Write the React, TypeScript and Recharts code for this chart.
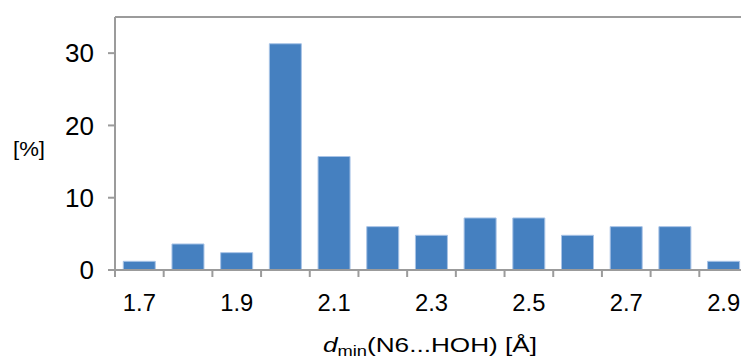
import { BarChart, Bar, XAxis, YAxis, ReferenceLine } from 'recharts';

const categories = ['1.7', '1.8', '1.9', '2.0', '2.1', '2.2', '2.3', '2.4', '2.5', '2.6', '2.7', '2.8', '2.9'];
const percents = [1.2, 3.6, 2.4, 31.3, 15.7, 6.0, 4.8, 7.2, 7.2, 4.8, 6.0, 6.0, 1.2];
const yTicks = [0, 10, 20, 30];

const data = categories.map((c, i) => ({ d: c, pct: percents[i] }));

const FONT = '"Liberation Sans", Arial, sans-serif';
const AXIS = '#9b9b9b';
const W = 763;
const H = 358;
const M = { top: 17, right: 15, bottom: 0, left: 0 };
const Y_W = 115;
const BW = (W - M.left - M.right - Y_W) / categories.length;

// ticks sit on the category borders, labels on every other category
const XTick = (props: any) => {
  const { x, y, payload } = props;
  const i = categories.indexOf(payload.value);
  return (
    <g>
      <line x1={x - BW / 2} x2={x - BW / 2} y1={y - 7} y2={y} stroke={AXIS} strokeWidth={2} />
      {i % 2 === 0 && (
        <text x={x} y={y + 34} textAnchor="middle" fontSize={23} fontFamily={FONT} fill="#000" textLength={33} lengthAdjust="spacingAndGlyphs">
          {payload.value}
        </text>
      )}
    </g>
  );
};

const XTitle = () => (
  <text x={323} y={352} fontSize={20} fontFamily={FONT} fill="#000" textLength={214} lengthAdjust="spacingAndGlyphs">
    <tspan fontStyle="italic">d</tspan>
    <tspan fontSize={14} dy={4}>min</tspan>
    <tspan dy={-4}>(N6...HOH) [Å]</tspan>
  </text>
);

const YTitle = () => (
  <text x={13} y={156} fontSize={21} fontFamily={FONT} fill="#000" textLength={32} lengthAdjust="spacingAndGlyphs">
    [%]
  </text>
);

export default function App() {
  return (
    <div style={{ position: 'fixed', left: 0, top: 0, width: 741, height: 358, overflow: 'hidden', background: '#fff' }}>
      <BarChart width={W} height={H} data={data} margin={M} barCategoryGap="17%">
        <XAxis
          dataKey="d"
          interval={0}
          height={88}
          tickSize={7}
          tickMargin={0}
          tickLine={false}
          axisLine={{ stroke: AXIS, strokeWidth: 2 }}
          tick={<XTick />}
          label={{ content: () => <XTitle /> }}
        />
        <YAxis
          width={Y_W}
          domain={[0, 35]}
          ticks={yTicks}
          tickSize={7}
          tickMargin={14}
          tickLine={{ stroke: AXIS, strokeWidth: 2 }}
          axisLine={{ stroke: AXIS, strokeWidth: 2 }}
          tick={{ fontSize: 26, fontFamily: FONT, fill: '#000' }}
          label={{ content: () => <YTitle /> }}
        />
        <ReferenceLine y={35} stroke={AXIS} strokeWidth={2} />
        <Bar dataKey="pct" fill="#4580c0" stroke="#a8c3e6" strokeWidth={1} isAnimationActive={false} />
      </BarChart>
    </div>
  );
}
